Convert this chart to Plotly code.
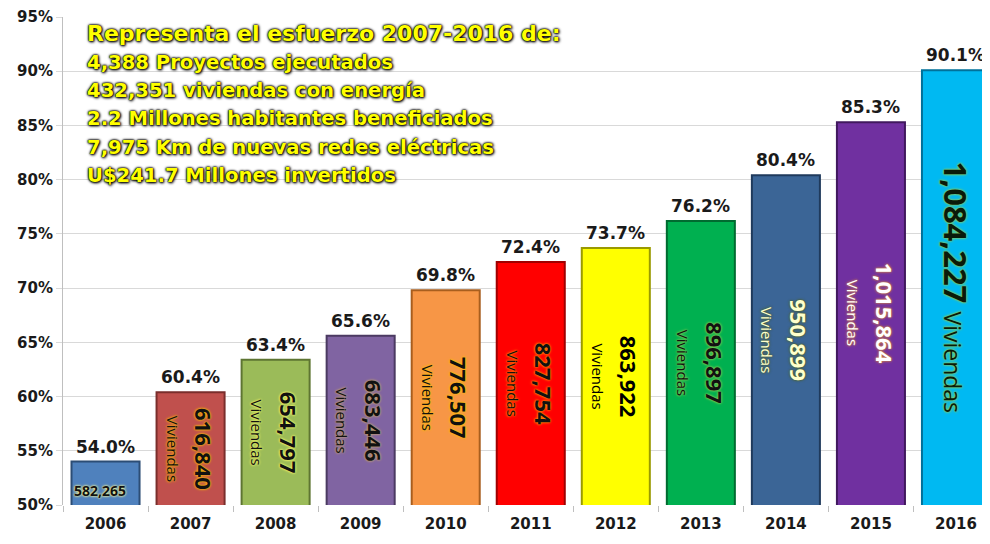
import plotly.graph_objects as go

# datos del grafico
years = ['2006', '2007', '2008', '2009', '2010', '2011', '2012', '2013', '2014', '2015', '2016']
coverage = [54.0, 60.4, 63.4, 65.6, 69.8, 72.4, 73.7, 76.2, 80.4, 85.3, 90.1]
homes = [582265, 616840, 654797, 683446, 776507, 827754, 863922, 896897, 950899, 1015864, 1084227]
y_ticks = [50, 55, 60, 65, 70, 75, 80, 85, 90, 95]
header = [
    'Representa el esfuerzo 2007-2016 de:',
    '4,388 Proyectos ejecutados',
    '432,351 viviendas con energía',
    '2.2 Millones habitantes beneficiados',
    '7,975 Km de nuevas redes eléctricas',
    'U$241.7 Millones invertidos',
]

# colores de barras, bordes y textos
bar_colors = ['#4F81BD', '#C0504D', '#9BBB59', '#8064A2', '#F79646', '#FF0000',
              '#FFFF00', '#00B050', '#3B6596', '#7030A0', '#00B9F2']
edge_colors = ['#2C4D75', '#7A2E2C', '#5E7532', '#4B3A62', '#A85E1E', '#A00000',
               '#9A9A00', '#006B30', '#1F3A5C', '#40185E', '#00719A']
text_colors = ['#111111', '#111111', '#111111', '#111111', '#111111', '#111111',
               '#000000', '#111111', '#FFFFCC', '#FFFFFF', '#0A1A0A']
glow_colors = ['#FFFF99', '#FFC000', '#FFFF66', '#C8A86B', '#FFC000', '#FF9900',
               '#FFFF00', '#92D050', '#4F6228', '#D08040', '#92D050']

fig = go.Figure()
fig.add_trace(go.Bar(
    x=years, y=coverage,
    marker_color=bar_colors,
    marker_line=dict(color=edge_colors, width=2),
    width=0.8, hoverinfo='x+y'))

for i, (v, h) in enumerate(zip(coverage, homes)):
    # porcentaje encima de la barra
    fig.add_annotation(x=i, y=v, yanchor='bottom', yshift=3, text='<b>%.1f%%</b>' % v,
                       showarrow=False,
                       font=dict(family='DejaVu Sans', size=17, color='#1a1a1a'))
    # viviendas dentro de la barra
    shadow = '0 0 3px %s, 0 0 2px %s' % (glow_colors[i], glow_colors[i])
    if i == 0:
        fig.add_annotation(x=i, y=50, yanchor='bottom', yshift=3, xshift=-6,
                           text='<b>{:,}</b>'.format(h), showarrow=False,
                           font=dict(family='Open Sans', size=14, color=text_colors[i], shadow=shadow))
    elif i == len(years) - 1:
        txt = ('<b>{:,}</b> <span style="font-size:23px;font-weight:normal">Viviendas</span>'
               .format(h))
        fig.add_annotation(x=i, y=(50 + v) / 2, text=txt, textangle=90, showarrow=False,
                           font=dict(family='Open Sans', size=31, color=text_colors[i], shadow=shadow))
    else:
        txt = ('<b>{:,}</b><br><span style="font-size:15px;font-weight:normal">Viviendas</span>'
               .format(h))
        fig.add_annotation(x=i, y=(50 + v) / 2, text=txt, textangle=90, showarrow=False,
                           font=dict(family='Open Sans', size=22, color=text_colors[i], shadow=shadow))

# recuadro de texto amarillo
for j, line in enumerate(header):
    fig.add_annotation(xref='paper', yref='paper', x=0.024, xanchor='left',
                       y=(505 - 33 - (j * 28.3 + 1 if j else 0)) / 488,
                       yanchor='middle', text='<b>%s</b>' % line, showarrow=False,
                       font=dict(family='DejaVu Sans', size=22 if j == 0 else 19.6,
                                 color='#FFFF00',
                                 shadow='0 0 1px #000, 0 0 2px #000, 0 0 3px #000, 1px 1px 3px #000'))

# la pagina html deja 8px de margen en el body: la figura ocupa 982x536
fig.update_layout(
    width=982, height=536,
    margin=dict(l=55, r=0, t=9, b=39),
    plot_bgcolor='white', paper_bgcolor='white',
    showlegend=False,
)
fig.update_xaxes(type='category', range=[-0.5, 10.4], showgrid=False, ticks='outside',
                 tickson='boundaries', ticklen=6, tickcolor='#bfbfbf', showline=False,
                 ticklabelstandoff=8,
                 tickfont=dict(family='DejaVu Sans', size=15, color='#1a1a1a', weight='bold'))
fig.update_yaxes(range=[50, 95], tickvals=y_ticks, ticktext=['%d%%' % t for t in y_ticks],
                 showgrid=True, gridcolor='#d9d9d9', gridwidth=1, zeroline=False,
                 showline=True, linecolor='#bfbfbf', ticks='outside', ticklen=6, tickcolor='#d9d9d9',
                 tickfont=dict(family='DejaVu Sans', size=15, color='#1a1a1a', weight='bold'))

fig.write_html('out.html')
